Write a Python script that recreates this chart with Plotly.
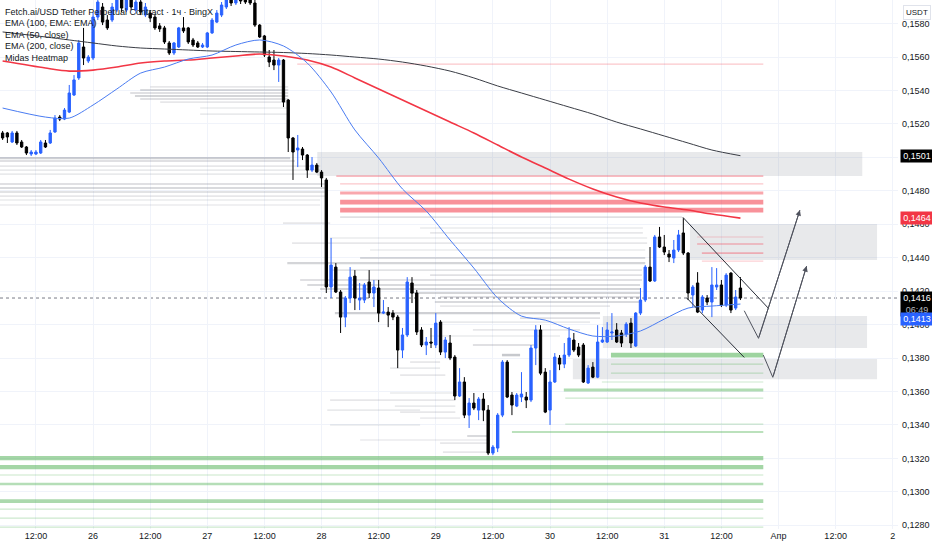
import pandas as pd
import plotly.graph_objects as go

# ---- data (1h bars, FET/USDT perp, BingX) ----
# first bar = 26 Mar 00:00 minus 19 hours
first_bar_hour = -19

opens = [
    0.15146, 0.15146, 0.15092, 0.15146, 0.15092, 0.15062, 0.15020, 0.15020, 0.15026, 0.15086,
    0.15086, 0.15152, 0.15241, 0.15229, 0.15271, 0.15373, 0.15475, 0.15660, 0.15576,
    0.15594, 0.15839, 0.15899, 0.15821, 0.15821, 0.15881, 0.15941, 0.15881, 0.15941, 0.15881,
    0.15929, 0.15851, 0.15863, 0.15839, 0.15786, 0.15774, 0.15684, 0.15624, 0.15660, 0.15774,
    0.15774, 0.15702, 0.15684, 0.15660, 0.15660, 0.15744, 0.15809, 0.15851, 0.15899, 0.15941,
    0.15923, 0.15953, 0.15941, 0.15941, 0.15923, 0.15791, 0.15726, 0.15600, 0.15582, 0.15552,
    0.15582, 0.15343, 0.15116, 0.15044, 0.15050, 0.15014, 0.14924, 0.14954, 0.14912, 0.14865,
    0.14225, 0.14344, 0.14195, 0.14045, 0.14159, 0.14290, 0.14147, 0.14147, 0.14255, 0.14189,
    0.14219, 0.14069, 0.14075, 0.14069, 0.14045, 0.13848, 0.13938, 0.14249, 0.14189, 0.13968,
    0.13878, 0.13896, 0.13878, 0.14015, 0.13836, 0.13890, 0.13806, 0.13573, 0.13657, 0.13459,
    0.13531, 0.13489, 0.13555, 0.13489, 0.13232, 0.13262, 0.13459, 0.13776, 0.13579, 0.13513,
    0.13567, 0.13567, 0.13549, 0.13860, 0.13968, 0.13716, 0.13489, 0.13657, 0.13800, 0.13764,
    0.13818, 0.13908, 0.13866, 0.13878, 0.13651, 0.13746, 0.13686, 0.13896, 0.13896, 0.13950,
    0.13968, 0.13950, 0.13944, 0.14009, 0.13872, 0.14069, 0.14147, 0.14344, 0.14261, 0.14524,
    0.14464, 0.14422, 0.14398, 0.14446, 0.14548, 0.14428, 0.14177, 0.14249, 0.14087, 0.14159,
    0.14135, 0.14225, 0.14237, 0.14117, 0.14308, 0.14099, 0.14219,
]
highs = [
    0.15158, 0.15152, 0.15158, 0.15158, 0.15104, 0.15068, 0.15044, 0.15044, 0.15104, 0.15104,
    0.15164, 0.15253, 0.15253, 0.15295, 0.15433, 0.15492, 0.15702, 0.15774, 0.15612,
    0.15869, 0.15971, 0.15923, 0.15851, 0.15923, 0.15977, 0.15965, 0.15971, 0.15959, 0.15953,
    0.15941, 0.15923, 0.15881, 0.15857, 0.15803, 0.15786, 0.15696, 0.15690, 0.15780, 0.15839,
    0.15780, 0.15714, 0.15696, 0.15684, 0.15750, 0.15833, 0.15881, 0.15929, 0.15965, 0.15959,
    0.15977, 0.15971, 0.15959, 0.15953, 0.15941, 0.15797, 0.15732, 0.15642, 0.15642, 0.15594,
    0.15588, 0.15349, 0.15122, 0.15134, 0.15062, 0.15020, 0.15002, 0.14966, 0.14924, 0.14877,
    0.14518, 0.14368, 0.14207, 0.14171, 0.14344, 0.14326, 0.14249, 0.14249, 0.14326, 0.14267,
    0.14267, 0.14147, 0.14105, 0.14087, 0.14057, 0.13980, 0.14284, 0.14284, 0.14207, 0.13985,
    0.13926, 0.13980, 0.14069, 0.14027, 0.13926, 0.13938, 0.13818, 0.13740, 0.13686, 0.13561,
    0.13591, 0.13567, 0.13591, 0.13519, 0.13280, 0.13471, 0.13788, 0.13788, 0.13597, 0.13591,
    0.13716, 0.13597, 0.13878, 0.13997, 0.13997, 0.13740, 0.13728, 0.13830, 0.13818, 0.13890,
    0.13985, 0.13950, 0.13890, 0.13890, 0.13758, 0.13776, 0.13997, 0.13985, 0.14015, 0.14069,
    0.14009, 0.13968, 0.14015, 0.14039, 0.14075, 0.14219, 0.14356, 0.14464, 0.14536, 0.14584,
    0.14536, 0.14446, 0.14506, 0.14566, 0.14637, 0.14434, 0.14237, 0.14314, 0.14177, 0.14177,
    0.14344, 0.14338, 0.14267, 0.14308, 0.14314, 0.14207, 0.14284,
]
lows = [
    0.15104, 0.15086, 0.15086, 0.15074, 0.15056, 0.15014, 0.15008, 0.15014, 0.15020, 0.15056,
    0.15080, 0.15146, 0.15217, 0.15223, 0.15265, 0.15367, 0.15463, 0.15552, 0.15564,
    0.15582, 0.15821, 0.15791, 0.15762, 0.15809, 0.15869, 0.15869, 0.15869, 0.15881, 0.15863,
    0.15851, 0.15839, 0.15809, 0.15762, 0.15750, 0.15678, 0.15612, 0.15612, 0.15654, 0.15744,
    0.15678, 0.15660, 0.15654, 0.15654, 0.15654, 0.15738, 0.15803, 0.15839, 0.15887, 0.15905,
    0.15911, 0.15917, 0.15917, 0.15911, 0.15780, 0.15714, 0.15600, 0.15540, 0.15522, 0.15451,
    0.15301, 0.15032, 0.14865, 0.14942, 0.14984, 0.14877, 0.14912, 0.14906, 0.14823, 0.14189,
    0.14159, 0.14189, 0.13950, 0.13985, 0.14129, 0.14087, 0.14087, 0.14129, 0.14159, 0.14105,
    0.14015, 0.14063, 0.13985, 0.14027, 0.13740, 0.13800, 0.13926, 0.14129, 0.13938, 0.13866,
    0.13818, 0.13860, 0.13860, 0.13818, 0.13800, 0.13788, 0.13549, 0.13567, 0.13441, 0.13382,
    0.13489, 0.13429, 0.13423, 0.13220, 0.13220, 0.13238, 0.13447, 0.13561, 0.13459, 0.13507,
    0.13537, 0.13501, 0.13537, 0.13758, 0.13698, 0.13471, 0.13400, 0.13651, 0.13728, 0.13740,
    0.13806, 0.13836, 0.13806, 0.13651, 0.13645, 0.13680, 0.13680, 0.13890, 0.13890, 0.13908,
    0.13890, 0.13866, 0.13926, 0.13860, 0.13866, 0.14057, 0.14135, 0.14255, 0.14255, 0.14458,
    0.14416, 0.14374, 0.14368, 0.14434, 0.14416, 0.14147, 0.14105, 0.14069, 0.14069, 0.14117,
    0.14045, 0.14207, 0.14105, 0.14105, 0.14069, 0.14087, 0.14147,
]
closes = [
    0.15116, 0.15122, 0.15146, 0.15086, 0.15062, 0.15026, 0.15032, 0.15032, 0.15092, 0.15062,
    0.15146, 0.15235, 0.15229, 0.15283, 0.15385, 0.15463, 0.15684, 0.15594, 0.15600,
    0.15839, 0.15929, 0.15809, 0.15774, 0.15899, 0.15953, 0.15893, 0.15947, 0.15899, 0.15929,
    0.15869, 0.15899, 0.15833, 0.15774, 0.15768, 0.15690, 0.15624, 0.15684, 0.15774, 0.15756,
    0.15690, 0.15672, 0.15660, 0.15672, 0.15744, 0.15821, 0.15863, 0.15911, 0.15941, 0.15923,
    0.15953, 0.15935, 0.15929, 0.15923, 0.15791, 0.15720, 0.15612, 0.15570, 0.15552, 0.15582,
    0.15331, 0.15116, 0.15032, 0.15056, 0.15014, 0.14924, 0.14954, 0.14912, 0.14877, 0.14225,
    0.14356, 0.14195, 0.14045, 0.14159, 0.14284, 0.14159, 0.14159, 0.14237, 0.14189, 0.14225,
    0.14069, 0.14075, 0.14057, 0.14045, 0.13848, 0.13938, 0.14255, 0.14189, 0.13956, 0.13878,
    0.13896, 0.13890, 0.14009, 0.13836, 0.13908, 0.13800, 0.13573, 0.13657, 0.13459, 0.13531,
    0.13501, 0.13555, 0.13489, 0.13232, 0.13268, 0.13459, 0.13776, 0.13567, 0.13519, 0.13579,
    0.13585, 0.13549, 0.13860, 0.13968, 0.13710, 0.13477, 0.13657, 0.13806, 0.13764, 0.13818,
    0.13920, 0.13848, 0.13818, 0.13657, 0.13740, 0.13686, 0.13896, 0.13908, 0.13968, 0.13956,
    0.13896, 0.13890, 0.14003, 0.13890, 0.14069, 0.14147, 0.14344, 0.14261, 0.14524, 0.14464,
    0.14434, 0.14404, 0.14446, 0.14536, 0.14428, 0.14189, 0.14225, 0.14075, 0.14165, 0.14135,
    0.14237, 0.14237, 0.14117, 0.14296, 0.14087, 0.14165, 0.14159,
]

# EMA values read at these hours (hours from 26 Mar 00:00)
ema_hours = [-19, -10, -5, 0, 5, 10, 15, 20, 25, 30, 35, 40, 45, 50, 55, 60,
             65, 70, 75, 80, 85, 90, 95, 100, 105, 110, 115, 120, 125, 130, 136]
ema200 = [0.15750, 0.15720, 0.15702, 0.15684, 0.15666, 0.15654, 0.15648, 0.15642,
          0.15636, 0.15633, 0.15630, 0.15627, 0.15621, 0.15612, 0.15600, 0.15588,
          0.15570, 0.15546, 0.15516, 0.15475, 0.15427, 0.15385, 0.15343, 0.15301,
          0.15259, 0.15211, 0.15170, 0.15128, 0.15086, 0.15044, 0.15010]
ema100 = [0.15576, 0.15534, 0.15516, 0.15522, 0.15540, 0.15564, 0.15576, 0.15582,
          0.15594, 0.15606, 0.15618, 0.15606, 0.15582, 0.15540, 0.15475, 0.15409,
          0.15343, 0.15277, 0.15211, 0.15146, 0.15074, 0.15002, 0.14936, 0.14870,
          0.14811, 0.14763, 0.14727, 0.14703, 0.14685, 0.14661, 0.14637]
ema50 = [0.15295, 0.15241, 0.15235, 0.15313, 0.15409, 0.15504, 0.15540, 0.15588,
         0.15612, 0.15672, 0.15702, 0.15666, 0.15564, 0.15391, 0.15164, 0.14996,
         0.14811, 0.14679, 0.14506, 0.14338, 0.14159, 0.14051, 0.14027, 0.13974,
         0.13932, 0.13932, 0.13962, 0.14033, 0.14099, 0.14111, 0.14123]

# Midas heatmap levels: (price, from hour, to hour, strength)
heat_grey = [
    (0.15421, 12.0, 41.0, 0.15), (0.15403, 9.9, 41.0, 0.25), (0.15385, 7.8, 41.0, 0.2),
    (0.15367, 8.8, 41.0, 0.3), (0.15349, 9.9, 41.0, 0.2), (0.15331, 14.1, 41.0, 0.15),
    (0.15295, 22.5, 41.0, 0.12), (0.15259, 22.5, 41.0, 0.12),
    (0.14996, -25, 41.4, 0.35), (0.14978, -25, 42.4, 0.2), (0.14948, -25, 47.7, 0.15),
    (0.14924, -25, 47.7, 0.12), (0.14900, -25, 47.7, 0.12), (0.14841, -25, 48.7, 0.2),
    (0.14817, -25, 48.7, 0.25), (0.14793, -25, 48.7, 0.18), (0.14769, -25, 48.7, 0.15),
    (0.14745, -25, 47.7, 0.12), (0.14715, -25, 47.7, 0.1),
    (0.14643, 51.9, 123.7, 0.2), (0.14607, 39.9, 49.8, 0.15), (0.14578, 68.7, 115.5, 0.12),
    (0.14548, 70.8, 115.5, 0.15), (0.14518, 49.8, 116.4, 0.12), (0.14488, 41.8, 116.4, 0.15),
    (0.14446, 58.2, 116.0, 0.12), (0.14398, 56.1, 116.0, 0.25), (0.14368, 40.8, 116.0, 0.3),
    (0.14326, 49.8, 115.3, 0.18), (0.14296, 70.8, 115.3, 0.2), (0.14267, 43.5, 115.3, 0.2),
    (0.14237, 45.0, 114.9, 0.25), (0.14213, 47.7, 114.9, 0.3), (0.14189, 66.6, 114.9, 0.3),
    (0.14165, 72.9, 114.9, 0.2), (0.14135, 71.8, 114.9, 0.25), (0.14111, 72.9, 108.6, 0.15),
    (0.14069, 50.8, 106.5, 0.35), (0.14039, 89.7, 106.5, 0.2), (0.14015, 72.9, 104.4, 0.12),
    (0.13968, 79.8, 102.3, 0.15), (0.13932, 70.8, 98.1, 0.12), (0.13878, 79.8, 93.3, 0.2),
    (0.13818, 85.9, 89.7, 0.4), (0.13776, 66.6, 72.9, 0.15), (0.13740, 62.4, 72.9, 0.12),
    (0.13698, 64.5, 74.0, 0.15), (0.13591, 62.4, 75.6, 0.12), (0.13549, 49.8, 76.1, 0.15),
    (0.13513, 63.4, 76.1, 0.12), (0.13489, 49.2, 68.7, 0.12), (0.13477, 64.5, 76.1, 0.15),
    (0.13441, 68.7, 77.1, 0.1), (0.13400, 49.8, 68.7, 0.12), (0.13334, 78.6, 82.8, 0.25),
    (0.13310, 56.1, 82.8, 0.1), (0.13292, 72.9, 82.8, 0.15), (0.13238, 73.5, 82.8, 0.15),
]
heat_red = [
    (0.15558, 42.9, 140.8, 0.2), (0.14888, 51.1, 140.8, 0.3), (0.14841, 51.9, 140.8, 0.2),
    (0.14787, 51.9, 140.8, 0.45), (0.14733, 51.9, 140.8, 0.6), (0.14685, 51.9, 140.8, 0.6),
    (0.14524, 126.9, 140.8, 0.12), (0.14482, 126.9, 140.8, 0.3), (0.14428, 127.9, 140.8, 0.3),
    (0.14380, 127.9, 140.8, 0.12),
]
heat_green = [
    (0.13818, 108.8, 140.8, 0.6), (0.13764, 108.8, 140.8, 0.25), (0.13710, 108.8, 140.8, 0.2),
    (0.13657, 106.9, 140.8, 0.2), (0.13609, 98.9, 140.8, 0.45), (0.13561, 99.2, 140.8, 0.2),
    (0.13405, 99.2, 140.8, 0.2), (0.13358, 88.0, 140.8, 0.35),
    (0.13202, -25, 140.8, 0.55), (0.13148, -25, 140.8, 0.55), (0.13101, -25, 140.8, 0.25),
    (0.13047, -25, 140.8, 0.4), (0.12945, -25, 140.8, 0.5), (0.12897, -25, 140.8, 0.2),
    (0.12843, -25, 140.8, 0.2), (0.12789, -25, 140.8, 0.2),
]

# zones drawn by the author: (from hour, to hour, top price, bottom price)
zones = [
    (47.1, 161.6, 0.15032, 0.14888),
    (125.4, 164.7, 0.14601, 0.14386),
    (107.1, 162.6, 0.14051, 0.13860),
    (100.8, 164.7, 0.13794, 0.13674),
]
# wedge and projected paths
wedge_top = ([123.9, 141.9], [0.14642, 0.14097])
wedge_bottom = ([124.7, 136.8], [0.14160, 0.13804])
path_a = ([136.8, 139.8, 148.5], [0.14083, 0.13918, 0.14685])
path_b = ([140.8, 142.8, 149.9], [0.13818, 0.13685, 0.14350])

last_price = 0.14159
price_ticks = [0.128 + 0.002 * i for i in range(16)]
time_tick_hours = [-12, 0, 12, 24, 36, 48, 60, 72, 84, 96, 108, 120, 132, 144, 156, 168]
time_tick_labels = ["12:00", "26", "12:00", "27", "12:00", "28", "12:00", "29", "12:00",
                    "30", "12:00", "31", "12:00", "Апр", "12:00", "2"]

# ---- figure ----
FONT = "Liberation Sans, Arial, sans-serif"
TXT = "#131722"
BLUE = "#2962ff"
base = pd.Timestamp("2025-03-26 00:00")


def at(h):
    return base + pd.Timedelta(hours=h)


times = [at(first_bar_hour + i) for i in range(len(opens))]
ema_times = [at(h) for h in ema_hours]

fig = go.Figure()

shapes = []
for x0, x1, top, bot in zones:
    shapes.append(dict(type="rect", xref="x", yref="y", x0=at(x0), x1=at(x1), y0=bot, y1=top,
                       fillcolor="rgba(120,123,134,0.17)", line=dict(width=0), layer="between"))


def heat(levels, rgb, grey=False):
    for p, h0, h1, s in levels:
        if grey:
            alpha, w = min(0.5, 0.05 + 0.9 * s), 1.3 + 3 * s
        else:
            alpha, w = 0.15 + 0.65 * s, 1.2 + 10 * max(0, s - 0.25)
        shapes.append(dict(type="line", xref="x", yref="y", x0=at(h0), x1=at(h1), y0=p, y1=p,
                           line=dict(color="rgba(%s,%.2f)" % (rgb, alpha), width=w),
                           layer="between"))


heat(heat_grey, "120,123,134", grey=True)
heat(heat_red, "242,54,69")
heat(heat_green, "76,175,80")

shapes.append(dict(type="line", xref="paper", yref="y", x0=0, x1=1, y0=last_price, y1=last_price,
                   line=dict(color="#787b86", width=1, dash="dot"), layer="between"))

fig.add_trace(go.Candlestick(
    x=times, open=opens, high=highs, low=lows, close=closes,
    increasing=dict(line=dict(color=BLUE, width=1), fillcolor=BLUE),
    decreasing=dict(line=dict(color="#000000", width=1), fillcolor="#000000"),
    whiskerwidth=0, hoverinfo="skip",
))

fig.add_trace(go.Scatter(x=ema_times, y=ema200, mode="lines",
                         line=dict(color="#3a3d45", width=1, shape="spline", smoothing=0.8)))
fig.add_trace(go.Scatter(x=ema_times, y=ema100, mode="lines",
                         line=dict(color="#f23645", width=1.6, shape="spline", smoothing=0.8)))
fig.add_trace(go.Scatter(x=ema_times, y=ema50, mode="lines",
                         line=dict(color="#4a7cf2", width=1, shape="spline", smoothing=0.8)))

for hx, py in (wedge_top, wedge_bottom):
    fig.add_trace(go.Scatter(x=[at(h) for h in hx], y=py, mode="lines",
                             line=dict(color="#2a2e39", width=1)))

annotations = []
for hx, py in (path_a, path_b):
    fig.add_trace(go.Scatter(x=[at(h) for h in hx], y=py, mode="lines",
                             line=dict(color="#50535e", width=1)))
    annotations.append(dict(x=at(hx[-1]), y=py[-1], ax=at(hx[-2]), ay=py[-2],
                            xref="x", yref="y", axref="x", ayref="y", text="",
                            showarrow=True, arrowhead=2, arrowsize=1.1, arrowwidth=1,
                            arrowcolor="#50535e"))

# legend block top-left
legend_lines = ["Fetch.ai/USD Tether Perpetual Contract · 1ч · BingX", "EMA (100, EMA: EMA)",
                "EMA (50, close)", "EMA (200, close)", "Midas Heatmap"]
for i, txt in enumerate(legend_lines):
    annotations.append(dict(xref="paper", yref="paper", x=0, y=1, yshift=-12 - 11.4 * i,
                            xshift=4, xanchor="left", yanchor="middle", text=txt,
                            showarrow=False, borderpad=0,
                            font=dict(family=FONT, size=9, color=TXT)))


def price_tag(p, text, bg, shift=0, fg="#ffffff"):
    annotations.append(dict(xref="paper", yref="y", x=1, y=p, xanchor="left", yanchor="middle",
                            xshift=2, yshift=shift, text=text, showarrow=False, bgcolor=bg,
                            borderpad=1, width=30, align="center",
                            font=dict(family=FONT, size=9, color=fg)))


price_tag(ema200[-1], "0,1501", "#000000")
price_tag(ema100[-1], "0,1464", "#f23645")
price_tag(last_price, "0,1416<br><span style='color:#b2b5be'>06:49</span>", "#000000", shift=-6)
price_tag(last_price, "0,1413", BLUE, shift=-21)

annotations.append(dict(xref="paper", yref="paper", x=1, y=1, xanchor="left", yanchor="top",
                        xshift=5, yshift=-5, text="USDT", showarrow=False, bgcolor="#ffffff",
                        bordercolor="#e0e3eb", borderwidth=1, borderpad=2,
                        font=dict(family=FONT, size=8, color=TXT)))

fig.update_layout(
    width=932, height=550,
    margin=dict(l=0, r=34, t=0, b=21),
    paper_bgcolor="#ffffff", plot_bgcolor="#ffffff",
    showlegend=False, hovermode=False,
    shapes=shapes, annotations=annotations,
    font=dict(family=FONT, size=9, color=TXT),
    xaxis=dict(
        type="date", range=[at(-19.55), at(169.1)],
        rangeslider=dict(visible=False),
        tickvals=[at(h) for h in time_tick_hours], ticktext=time_tick_labels,
        showgrid=True, gridcolor="#f0f3fa", zeroline=False, showline=False,
        tickfont=dict(family=FONT, size=9, color=TXT), ticks="",
    ),
    yaxis=dict(
        side="right", range=[0.12778, 0.15941],
        tickvals=price_ticks, ticktext=[("%.4f" % v).replace(".", ",") for v in price_ticks],
        showgrid=True, gridcolor="#f0f3fa", zeroline=False, showline=False,
        tickfont=dict(family=FONT, size=9, color=TXT), ticks="", ticklabelstandoff=3,
    ),
)

# the page body has a default 8px margin; drop it so the chart sits at the corner
fig.write_html("out.html", config={"displayModeBar": False},
               post_script="document.body.style.margin='0';")
